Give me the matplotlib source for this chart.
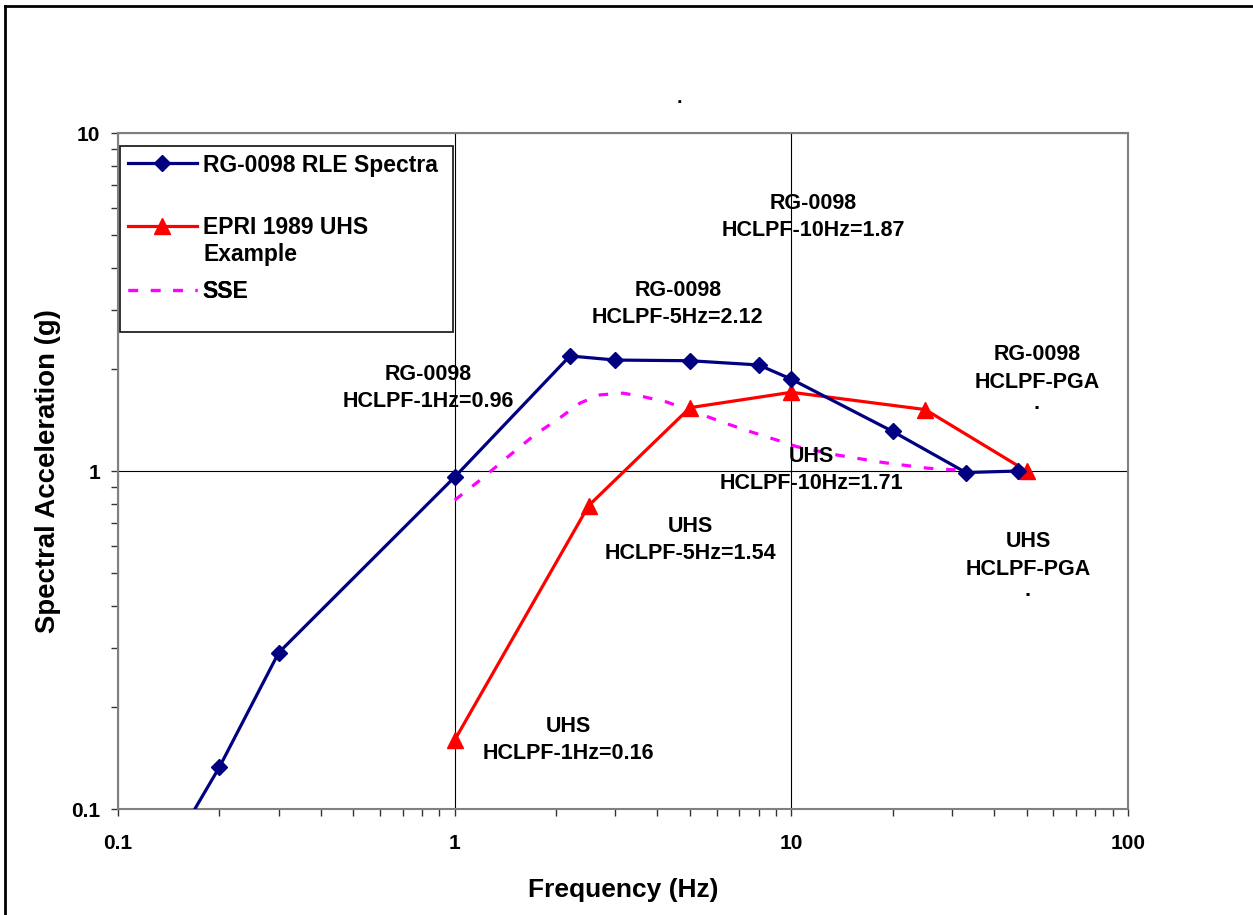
import matplotlib
matplotlib.use("Agg")
import matplotlib.pyplot as plt
from matplotlib.lines import Line2D
from matplotlib.patches import Rectangle
from matplotlib.ticker import LogLocator, NullFormatter, FixedLocator, FixedFormatter

plt.rcParams['font.family'] = ['Liberation Sans', 'DejaVu Sans']

# RG-0098 RLE spectra
rg_freq = [0.1, 0.2, 0.3, 1.0, 2.2, 3.0, 5.0, 8.0, 10.0, 20.0, 33.0, 47.0]
rg_acc = [0.041, 0.133, 0.29, 0.96, 2.19, 2.13, 2.12, 2.06, 1.87, 1.31, 0.99, 1.0]

# EPRI 1989 UHS example
uhs_freq = [1.0, 2.5, 5.0, 10.0, 25.0, 50.0]
uhs_acc = [0.16, 0.79, 1.54, 1.71, 1.52, 1.0]

# SSE
sse_freq = [1.0, 1.19, 1.46, 1.73, 2.06, 2.36, 2.7, 3.16, 3.63, 4.27, 5.0, 5.73,
            6.58, 7.7, 9.06, 10.4, 13.7, 18.7, 25.3, 31.3]
sse_acc = [0.82, 0.94, 1.115, 1.28, 1.44, 1.59, 1.68, 1.70, 1.66, 1.60, 1.51, 1.44,
           1.37, 1.30, 1.235, 1.18, 1.115, 1.06, 1.02, 1.007]

labels = ["RG-0098\nHCLPF-1Hz=0.96", "RG-0098\nHCLPF-5Hz=2.12",
          "RG-0098\nHCLPF-10Hz=1.87", "RG-0098\nHCLPF-PGA\n\u00b7",
          "UHS\nHCLPF-10Hz=1.71", "UHS\nHCLPF-5Hz=1.54",
          "UHS\nHCLPF-PGA\n\u00b7", "UHS\nHCLPF-1Hz=0.16"]
label_x = [0.833, 4.60, 11.6, 53.6, 11.5, 5.0, 50.5, 2.18]
label_y = [1.76, 3.12, 5.64, 1.83, 1.007, 0.625, 0.513, 0.160]

fig = plt.figure(figsize=(12.53, 9.15), dpi=100)
ax = fig.add_axes([0.0942, 0.1158, 0.806, 0.7388])

l_rg, = ax.plot(rg_freq, rg_acc, color='#000080', lw=2.3, marker='D', ms=8, zorder=4)
l_uhs, = ax.plot(uhs_freq, uhs_acc, color='#ff0000', lw=2.3, marker='^', ms=11, zorder=3)
l_sse, = ax.plot(sse_freq, sse_acc, color='#ff00ff', lw=2.3, dashes=(3, 4), zorder=2)

for t, x, y in zip(labels, label_x, label_y):
    ax.text(x, y, t, ha='center', va='center', fontsize=15.5,
            fontweight='bold', linespacing=1.4, zorder=5)

ax.set_xscale('log')
ax.set_yscale('log')
ax.set_xlim(0.1, 100)
ax.set_ylim(0.1, 10)

ax.xaxis.set_major_locator(FixedLocator([0.1, 1, 10, 100]))
ax.xaxis.set_major_formatter(FixedFormatter(['0.1', '1', '10', '100']))
ax.yaxis.set_major_locator(FixedLocator([0.1, 1, 10]))
ax.yaxis.set_major_formatter(FixedFormatter(['0.1', '1', '10']))
ax.xaxis.set_minor_locator(LogLocator(base=10, subs=range(2, 10)))
ax.yaxis.set_minor_locator(LogLocator(base=10, subs=range(2, 10)))
ax.xaxis.set_minor_formatter(NullFormatter())
ax.yaxis.set_minor_formatter(NullFormatter())
ax.tick_params(which='both', direction='out', length=5, width=1, color='#333333')
ax.tick_params(axis='x', which='major', labelsize=15, pad=13)
ax.tick_params(axis='y', which='major', labelsize=15, pad=8)
for lab in ax.get_xticklabels() + ax.get_yticklabels():
    lab.set_fontweight('bold')

ax.grid(True, which='major', color='black', lw=0.8)
for s in ax.spines.values():
    s.set_color('#808080')
    s.set_linewidth(1.5)

ax.set_xlabel('Frequency (Hz)', fontsize=19, fontweight='bold', labelpad=18)
ax.set_ylabel('Spectral Acceleration (g)', fontsize=19.8, fontweight='bold', labelpad=7)

# legend: box plus three entries placed like the original
ax.add_patch(Rectangle((0.002, 0.7056), 0.3297, 0.2752, transform=ax.transAxes,
                       facecolor='white', edgecolor='#222222', lw=1.3, zorder=6))
leg_prop = {'weight': 'bold', 'size': 16.5}
entries = [(l_rg, 'RG-0098 RLE Spectra', 0.9527),
           (l_uhs, 'EPRI 1989 UHS', 0.8609),
           (l_sse, 'SSE', 0.7663)]
for h, lab, yy in entries:
    lg = ax.legend([h], [lab], loc='center left', bbox_to_anchor=(0.0099, yy),
                   prop=leg_prop, frameon=False, handlelength=3.0,
                   handletextpad=0.26, borderpad=0, borderaxespad=0)
    lg.set_zorder(7)
    ax.add_artist(lg)
ax.text(0.0842, 0.8210, 'Example', transform=ax.transAxes, fontsize=16.5,
        fontweight='bold', va='center', ha='left', zorder=7)

# stray title mark and page frame
fig.text(0.542, 0.887, '.', fontsize=14, fontweight='bold', ha='center')
fig.add_artist(Line2D([0.004, 1.0], [0.9935, 0.9935], color='black', lw=2,
                      transform=fig.transFigure))
fig.add_artist(Line2D([0.004, 0.004], [0.0, 0.9935], color='black', lw=2,
                      transform=fig.transFigure))

fig.savefig('out.png', dpi=100)
